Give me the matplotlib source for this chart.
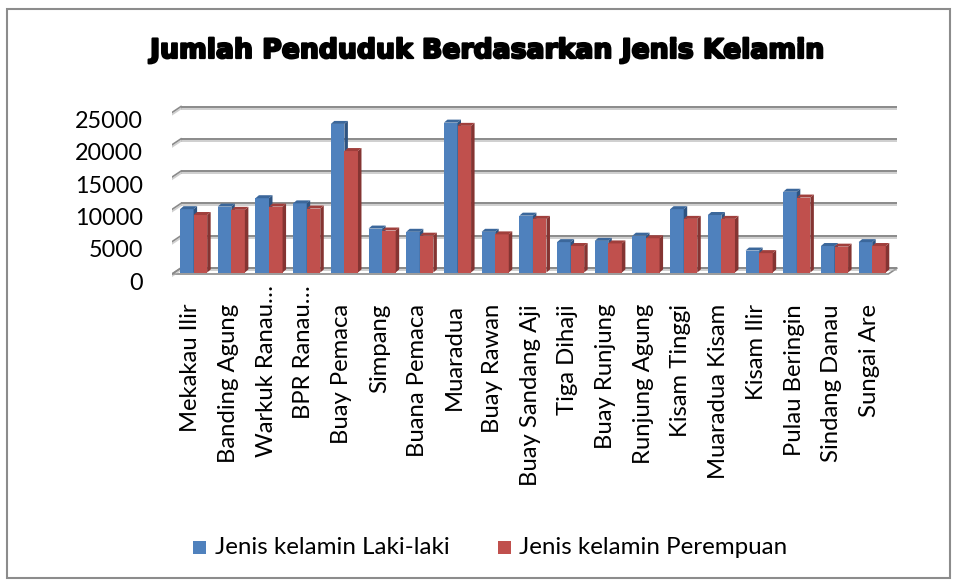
import matplotlib
matplotlib.use("Agg")
import matplotlib.pyplot as plt
from matplotlib.patches import Polygon, Rectangle
import matplotlib.patheffects as pe

categories = ["Mekakau Ilir", "Banding Agung", "Warkuk Ranau…", "BPR Ranau…", "Buay Pemaca",
              "Simpang", "Buana Pemaca", "Muaradua", "Buay Rawan", "Buay Sandang Aji",
              "Tiga Dihaji", "Buay Runjung", "Runjung Agung", "Kisam Tinggi", "Muaradua Kisam",
              "Kisam Ilir", "Pulau Beringin", "Sindang Danau", "Sungai Are"]
laki = [9800, 10200, 11500, 10700, 23000, 6800, 6300, 23200, 6300, 8800,
        4700, 4900, 5700, 9800, 8900, 3400, 12500, 4100, 4700]
perempuan = [8900, 9700, 10200, 9900, 18800, 6500, 5700, 22700, 5900, 8300,
             4100, 4500, 5300, 8300, 8300, 3000, 11600, 4000, 4100]
yticks = [0, 5000, 10000, 15000, 20000, 25000]
series_names = ["Jenis kelamin Laki-laki", "Jenis kelamin Perempuan"]
title = "Jumlah Penduduk Berdasarkan Jenis Kelamin"

W, H = 956, 580
fig = plt.figure(figsize=(W / 100, H / 100), dpi=100)

# geometry (pixels)
px_cell = 37.7
px_val = 32.3 / 5000.0
x0_px = 172.0
y0_px = 274.0
xmin, xmax = -0.5, 19.0
ymin, ymax = -500, 26300
ax = fig.add_axes([x0_px / W, (H - y0_px - (0 - ymin) * px_val) / H,
                   (xmax - xmin) * px_cell / W, (ymax - ymin) * px_val / H])
ax.set_xlim(xmin, xmax)
ax.set_ylim(ymin, ymax)
ax.axis("off")

def dxp(p):
    return p / px_cell

def dyp(p):
    return p / px_val

floor_dx, floor_dy = dxp(9), dyp(6)
bar_dx, bar_dy = dxp(3.5), dyp(3)
front_dx, front_dy = (floor_dx - bar_dx) / 2, (floor_dy - bar_dy) / 2
w = 0.36
n = len(categories)
left, right = -0.5, n - 0.5

grid_c = "#8a8a8a"
shadow = [pe.SimpleLineShadow(offset=(0, -1.5), shadow_color="#b0b0b0", alpha=0.6), pe.Normal()]
lab_font = ["Lato", "DejaVu Sans"]

# floor
floor = Polygon([(left, 0), (right, 0), (right + floor_dx, floor_dy), (left + floor_dx, floor_dy)],
                closed=True, facecolor="white", edgecolor=grid_c, lw=1.2, zorder=1)
ax.add_patch(floor)
# gridlines on back wall + left side diagonals
for v in yticks:
    ax.plot([left + floor_dx, right + floor_dx], [v + floor_dy, v + floor_dy], color=grid_c,
            lw=1.4, zorder=1, solid_capstyle="butt", path_effects=shadow)
    ax.plot([left, left + floor_dx], [v, v + floor_dy], color=grid_c, lw=1.2, zorder=1,
            path_effects=shadow)
    ax.text(dxp(143 - x0_px) - 0.5, v - dyp(9), f"{v}", ha="right", va="center",
            fontsize=16.8, family=lab_font, color="#000000")

colors = [("#4F81BD", "#3B679B", "#2E5380"), ("#C0504D", "#A03F3C", "#843432")]
for i in range(n):
    for k, vals in enumerate([laki, perempuan]):
        v = vals[i]
        bx = i - w + k * w + front_dx
        front_c, top_c, side_c = colors[k]
        z = 3 + i * 0.01 + k * 0.001
        ax.bar(bx, v, width=w, bottom=front_dy, align="edge", color=front_c, edgecolor="none",
               zorder=z)
        top = Polygon([(bx, front_dy + v), (bx + w, front_dy + v), (bx + w + bar_dx, front_dy + v + bar_dy),
                       (bx + bar_dx, front_dy + v + bar_dy)], closed=True, facecolor=top_c,
                      edgecolor="none", zorder=z)
        side = Polygon([(bx + w, front_dy), (bx + w + bar_dx, front_dy + bar_dy),
                        (bx + w + bar_dx, front_dy + v + bar_dy), (bx + w, front_dy + v)], closed=True,
                       facecolor=side_c, edgecolor="none", zorder=z)
        ax.add_patch(side)
        ax.add_patch(top)

for i, c in enumerate(categories):
    ytop = dyp(y0_px - 285) if c.endswith("…") else dyp(y0_px - 304)
    ax.text(i, ytop, c, rotation=90, ha="center", va="top", fontsize=17.2,
            family=lab_font, color="#000000", clip_on=False)

# title
fig.text(487 / W, 1 - 51 / H, title, ha="center", va="center", fontsize=19.2, fontweight="bold",
         family=["Liberation Sans Narrow", "DejaVu Sans"],
         path_effects=[pe.withStroke(linewidth=1.6, foreground="black")])

# legend
leg_y = 1 - 547 / H
for (lx, tx), name, (fc, _, _) in zip([(193, 215), (498, 519)], series_names, colors):
    fig.patches.append(Rectangle((lx / W, leg_y - 6.5 / H), 13 / W, 13 / H, transform=fig.transFigure,
                                 facecolor=fc, edgecolor="none"))
    fig.text(tx / W, leg_y, name, ha="left", va="center", fontsize=17.4,
             family=lab_font, color="#000000")

# border
fig.patches.append(Rectangle((7 / W, 2 / H), 943 / W, 569 / H, transform=fig.transFigure,
                             facecolor="none", edgecolor="#8c8c8c", lw=1.5))

fig.savefig("out.png", dpi=100, facecolor="white")
